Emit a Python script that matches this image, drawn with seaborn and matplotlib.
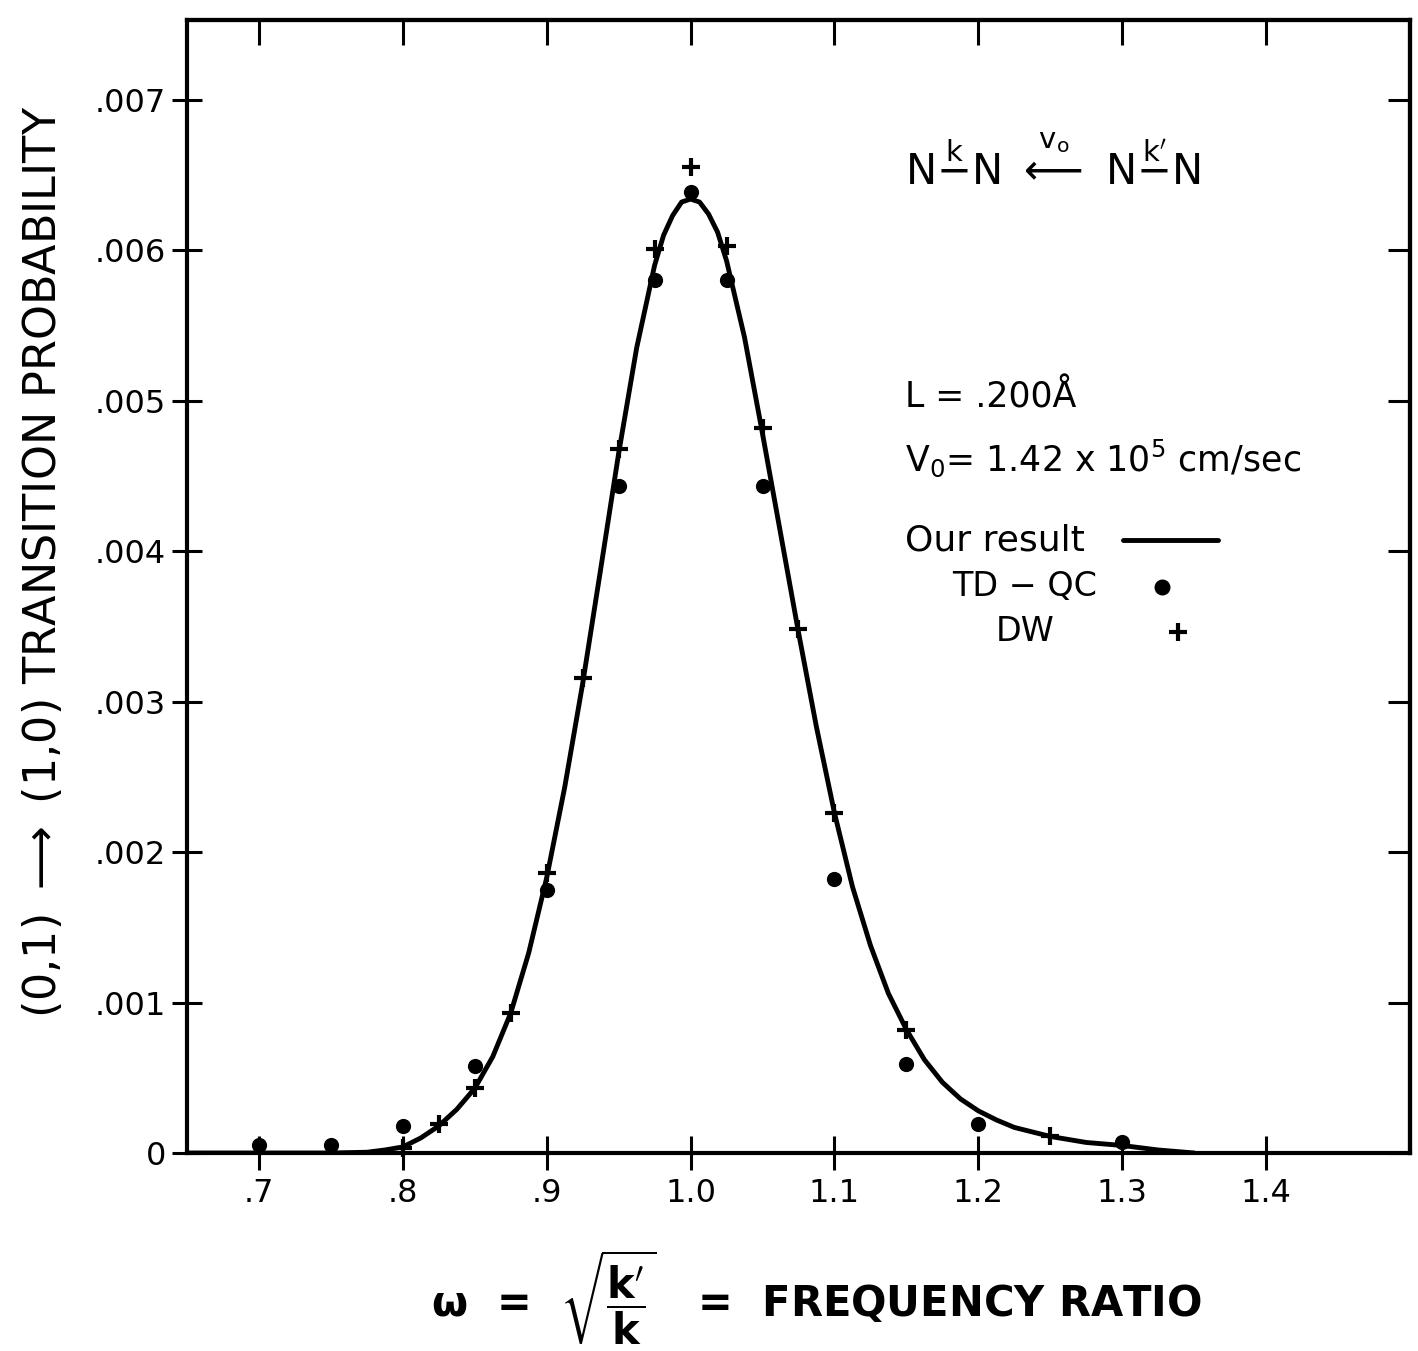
import matplotlib
matplotlib.use("Agg")
import matplotlib.pyplot as plt
import pandas as pd
import seaborn as sns

# "Our result" curve
curve_omega = [0.65, 0.70, 0.75, 0.775, 0.7875, 0.80, 0.8125, 0.825, 0.8375, 0.85, 0.8625,
               0.875, 0.8875, 0.90, 0.9125, 0.925, 0.9375, 0.95, 0.9625, 0.975, 0.98125,
               0.9875, 0.99375, 1.0, 1.00625, 1.0125, 1.01875, 1.025, 1.0375, 1.05, 1.0625,
               1.075, 1.0875, 1.10, 1.1125, 1.125, 1.1375, 1.15, 1.1625, 1.175, 1.1875,
               1.20, 1.2125, 1.225, 1.25, 1.275, 1.30, 1.325, 1.35]
curve_prob = [0.0, 0.0, 0.0, 0.000005, 0.00002, 0.00004, 0.00010, 0.00018, 0.00029, 0.00043, 0.00064,
              0.00093, 0.00133, 0.00183, 0.00243, 0.00312, 0.00388, 0.00465, 0.00535, 0.00590, 0.00610,
              0.00623, 0.00632, 0.00634, 0.00632, 0.00624, 0.00612, 0.00593, 0.00542, 0.00478, 0.00412,
              0.00346, 0.00283, 0.00226, 0.00177, 0.00138, 0.00106, 0.00082, 0.00062, 0.00047, 0.00036,
              0.00028, 0.00022, 0.00017, 0.00011, 0.00007, 0.00005, 0.00002, 0.0]

# TD-QC points (dots)
tdqc_omega = [0.70, 0.75, 0.80, 0.85, 0.90, 0.95, 0.975, 1.0, 1.025, 1.05, 1.10, 1.15, 1.20, 1.30]
tdqc_prob = [0.00005, 0.00005, 0.00018, 0.00058, 0.00175, 0.00443, 0.00580, 0.00639,
             0.00580, 0.00443, 0.00182, 0.00059, 0.00019, 0.00007]

# DW points (plus)
dw_omega = [0.80, 0.825, 0.85, 0.875, 0.90, 0.925, 0.95, 0.975, 1.0, 1.025, 1.05,
            1.075, 1.10, 1.15, 1.25]
dw_prob = [0.00003, 0.00019, 0.00043, 0.00093, 0.00186, 0.00316, 0.00468, 0.00601, 0.00655,
           0.00603, 0.00482, 0.00348, 0.00226, 0.00082, 0.00011]

x_ticks = [0.7, 0.8, 0.9, 1.0, 1.1, 1.2, 1.3, 1.4]
x_labels = [".7", ".8", ".9", "1.0", "1.1", "1.2", "1.3", "1.4"]
y_ticks = [0, 0.001, 0.002, 0.003, 0.004, 0.005, 0.006, 0.007]
y_labels = ["0", ".001", ".002", ".003", ".004", ".005", ".006", ".007"]

curve = pd.DataFrame({"omega": curve_omega, "prob": curve_prob})
tdqc = pd.DataFrame({"omega": tdqc_omega, "prob": tdqc_prob})
dw = pd.DataFrame({"omega": dw_omega, "prob": dw_prob})

sns.set_style("white")
plt.rcParams["font.family"] = ["DejaVu Sans"]
plt.rcParams["mathtext.fontset"] = "dejavusans"
plt.rcParams["text.color"] = "black"
plt.rcParams["axes.labelcolor"] = "black"
plt.rcParams["xtick.color"] = "black"
plt.rcParams["ytick.color"] = "black"

fig = plt.figure(figsize=(14.18, 13.51), dpi=100)
ax = fig.add_axes([187 / 1418, 1 - 1153 / 1351, 1223 / 1418, 1133 / 1351])

sns.lineplot(data=curve, x="omega", y="prob", ax=ax, color="black", linewidth=3.5, sort=False)
sns.scatterplot(data=tdqc, x="omega", y="prob", ax=ax, color="black", marker="o",
                s=120, edgecolor="black", linewidth=0, clip_on=False, zorder=3)
sns.scatterplot(data=dw, x="omega", y="prob", ax=ax, color="black", marker="+",
                s=170, linewidth=3, clip_on=False, zorder=3)

ax.set_xlim(0.65, 1.5)
ax.set_ylim(0, 0.00753)

for side in ["left", "right", "top", "bottom"]:
    ax.spines[side].set_linewidth(3)
    ax.spines[side].set_color("black")

ax.set_xticks(x_ticks)
ax.set_xticklabels(x_labels)
ax.set_yticks(y_ticks)
ax.set_yticklabels(y_labels)
ax.tick_params(axis="x", direction="inout", length=24, width=2.2, labelsize=23, pad=6,
               bottom=True, top=False)
ax.tick_params(axis="y", direction="inout", length=22, width=2.2, labelsize=23, pad=4,
               left=True, right=False)

# inward ticks on the top and right frame
top = ax.secondary_xaxis("top")
top.set_xticks(x_ticks)
top.set_xticklabels([])
top.tick_params(direction="in", length=18, width=2.2)
top.spines["top"].set_linewidth(3)
right = ax.secondary_yaxis("right")
right.set_yticks(y_ticks)
right.set_yticklabels([])
right.tick_params(direction="in", length=16, width=2.2)
right.spines["right"].set_linewidth(3)

ax.set_ylabel(r"(0,1) $\longrightarrow$ (1,0) TRANSITION PROBABILITY", fontsize=32)
ax.yaxis.set_label_coords(-0.100, 0.5216)
ax.set_xlabel(r"$\mathbf{\omega}$  =  $\sqrt{\dfrac{\mathbf{k}'}{\mathbf{k}}}$   =  FREQUENCY RATIO",
              fontsize=30, fontweight="bold")
ax.xaxis.set_label_coords(0.515, -0.128)
ax.xaxis.label.set_va("center")

# reaction and parameters annotation
ax.text(0.587, 0.846,
        r"$\mathrm{N}\overset{\mathrm{k}}{-}\mathrm{N}\ \overset{\mathrm{v_o}}{\longleftarrow}\ "
        r"\mathrm{N}\overset{\mathrm{k}'}{-}\mathrm{N}$",
        transform=ax.transAxes, ha="left", va="bottom", fontsize=30)
ax.text(0.587, 0.667, "L = .200Å", transform=ax.transAxes, ha="left", va="center", fontsize=25)
ax.text(0.587, 0.613, r"V$_0$= 1.42 x 10$^5$ cm/sec", transform=ax.transAxes,
        ha="left", va="center", fontsize=25)

# hand-drawn key
ax.text(0.587, 0.541, "Our result", transform=ax.transAxes, ha="left", va="center", fontsize=26)
ax.plot([0.765, 0.843], [0.541, 0.541], transform=ax.transAxes, color="black", lw=3.5)
ax.text(0.685, 0.4996, "TD − QC", transform=ax.transAxes, ha="center", va="center", fontsize=24)
ax.scatter([0.797], [0.4996], transform=ax.transAxes, color="black", s=110, marker="o")
ax.text(0.685, 0.46, "DW", transform=ax.transAxes, ha="center", va="center", fontsize=24)
ax.scatter([0.81], [0.46], transform=ax.transAxes, color="black", s=170, marker="+", linewidth=3)

fig.savefig("out.png", dpi=100, facecolor="white")
